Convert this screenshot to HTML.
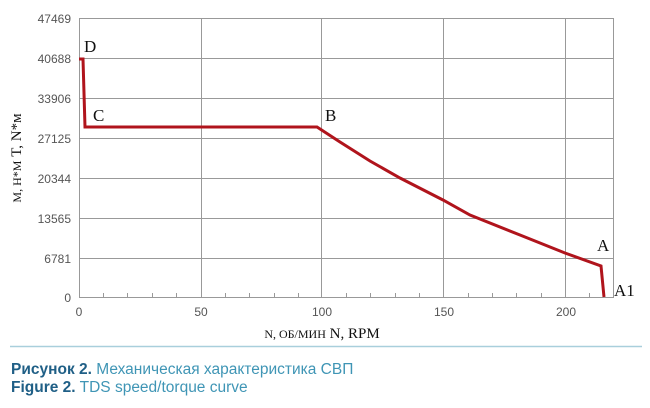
<!DOCTYPE html>
<html><head><meta charset="utf-8"><style>
body{margin:0;background:#fff;width:650px;height:408px;overflow:hidden}
</style></head><body>
<svg width="650" height="408" xmlns="http://www.w3.org/2000/svg" style="position:absolute;left:0;top:0">
<g stroke="#999" stroke-width="1" fill="none">
<rect x="79.5" y="18.5" width="534" height="279"/>
<line x1="79" y1="58.5" x2="613" y2="58.5"/>
<line x1="79" y1="98.5" x2="613" y2="98.5"/>
<line x1="79" y1="138.5" x2="613" y2="138.5"/>
<line x1="79" y1="178.5" x2="613" y2="178.5"/>
<line x1="79" y1="218.5" x2="613" y2="218.5"/>
<line x1="79" y1="258.5" x2="613" y2="258.5"/>
<line x1="201.5" y1="18" x2="201.5" y2="297"/>
<line x1="321.5" y1="18" x2="321.5" y2="297"/>
<line x1="443.5" y1="18" x2="443.5" y2="297"/>
<line x1="565.5" y1="18" x2="565.5" y2="297"/>
</g>
<g stroke="#999" stroke-width="1">
<line x1="103.5" y1="293" x2="103.5" y2="297"/><line x1="127.5" y1="293" x2="127.5" y2="297"/><line x1="152.5" y1="293" x2="152.5" y2="297"/><line x1="176.5" y1="293" x2="176.5" y2="297"/>
<line x1="225.5" y1="293" x2="225.5" y2="297"/><line x1="249.5" y1="293" x2="249.5" y2="297"/><line x1="274.5" y1="293" x2="274.5" y2="297"/><line x1="298.5" y1="293" x2="298.5" y2="297"/>
<line x1="346.5" y1="293" x2="346.5" y2="297"/><line x1="370.5" y1="293" x2="370.5" y2="297"/><line x1="395.5" y1="293" x2="395.5" y2="297"/><line x1="419.5" y1="293" x2="419.5" y2="297"/>
<line x1="468.5" y1="293" x2="468.5" y2="297"/><line x1="492.5" y1="293" x2="492.5" y2="297"/><line x1="516.5" y1="293" x2="516.5" y2="297"/><line x1="541.5" y1="293" x2="541.5" y2="297"/>
<line x1="589.5" y1="293" x2="589.5" y2="297"/>
</g>
<polyline fill="none" stroke="#b0141c" stroke-width="3" stroke-linejoin="miter"
points="79,59 83,59 85,127 317,127 340,142 370,161 400,178 443,200 470,215 520,235 565,253 601,266 604,297"/>
<g font-family="Liberation Sans, sans-serif" font-size="12" fill="#555" text-anchor="end">
<text x="71" y="23">47469</text><text x="71" y="63">40688</text><text x="71" y="103">33906</text>
<text x="71" y="143">27125</text><text x="71" y="183">20344</text><text x="71" y="223">13565</text>
<text x="71" y="263">6781</text><text x="71" y="302">0</text>
</g>
<g font-family="Liberation Sans, sans-serif" font-size="12" fill="#555" text-anchor="middle">
<text x="79" y="316">0</text><text x="201" y="316">50</text><text x="322" y="316">100</text><text x="444" y="316">150</text><text x="566" y="316">200</text>
</g>
<g font-family="Liberation Serif, serif" fill="#111" font-size="17">
<text x="84" y="52">D</text><text x="93" y="121">C</text><text x="325" y="121">B</text>
<text x="597" y="251">A</text><text x="614" y="296">A1</text>
</g>
<text x="322" y="338" font-family="Liberation Serif, serif" font-size="15" fill="#111" text-anchor="middle"><tspan font-size="12">N, ОБ/МИН</tspan>  N, RPM</text>
<text transform="translate(21,158) rotate(-90)" font-family="Liberation Serif, serif" font-size="15" fill="#111" text-anchor="middle"><tspan font-size="12">M, Н*М</tspan>   T, N*м</text>
<line x1="10" y1="346.5" x2="642" y2="346.5" stroke="#a9cfdc" stroke-width="1.5"/>
<g font-family="Liberation Sans, sans-serif" font-size="15.5" fill="#3f95b5" textLength="0">
<text x="11" y="374"><tspan font-weight="bold" fill="#1f5f86">Рисунок 2.</tspan> Механическая характеристика СВП</text>
<text x="11" y="392"><tspan font-weight="bold" fill="#1f5f86">Figure 2.</tspan> TDS speed/torque curve</text>
</g>
</svg>
</body></html>
